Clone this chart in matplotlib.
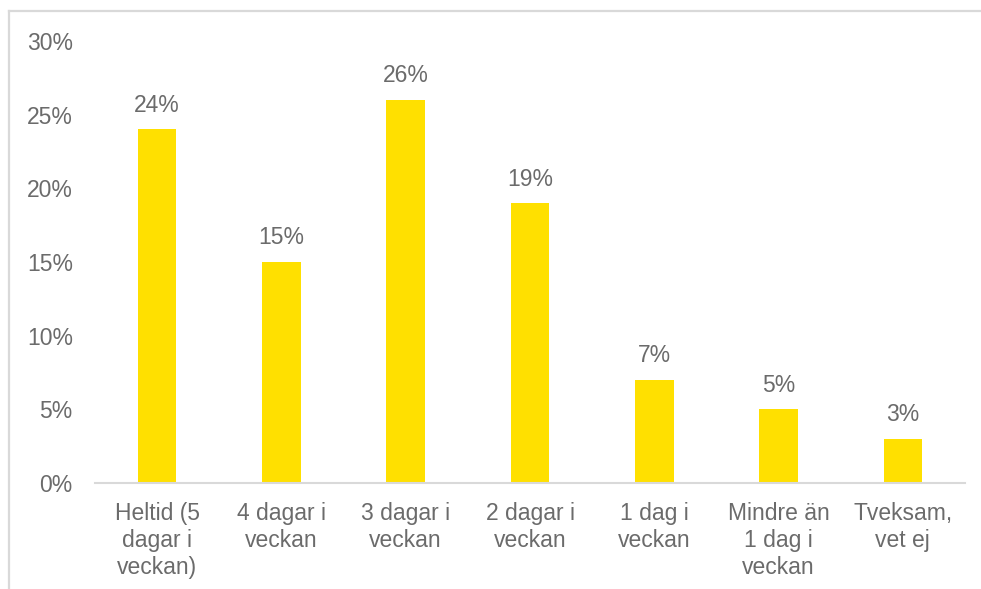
import matplotlib.pyplot as plt
from matplotlib.lines import Line2D
from matplotlib.ticker import FuncFormatter

# Chart data
categories = ['Heltid (5\ndagar i\nveckan)', '4 dagar i\nveckan', '3 dagar i\nveckan',
              '2 dagar i\nveckan', '1 dag i\nveckan', 'Mindre än\n1 dag i\nveckan', 'Tveksam,\nvet ej']
values = [0.24, 0.15, 0.26, 0.19, 0.07, 0.05, 0.03]
y_ticks = [0, 0.05, 0.10, 0.15, 0.20, 0.25, 0.30]

text_color = '#6B6B6B'
bar_color = '#FFE000'
line_color = '#D9D9D9'

plt.rcParams['font.family'] = ['Liberation Sans', 'DejaVu Sans']

W, H = 981, 589
fig = plt.figure(figsize=(W / 100, H / 100), dpi=100)
ax = fig.add_axes([95 / W, (H - 483) / H, (965 - 95) / W, (483 - 41) / H])

x = range(len(categories))
bars = ax.bar(x, values, width=0.31, color=bar_color, zorder=2)

# Data labels
for xi, v in zip(x, values):
    ax.annotate(f'{v * 100:.0f}%', (xi, v), xytext=(0, 9), textcoords='offset points',
                ha='center', va='bottom', fontsize=16.5, color=text_color)

ax.set_xlim(-0.5, len(categories) - 0.5)
ax.set_ylim(0, 0.30)
ax.set_yticks(y_ticks)
ax.yaxis.set_major_formatter(FuncFormatter(lambda v, p: f'{v * 100:.0f}%'))
ax.set_xticks(list(x))
ax.set_xticklabels(categories, linespacing=1.22)

ax.tick_params(axis='both', length=0, labelsize=16.5, labelcolor=text_color)
ax.tick_params(axis='y', pad=16)
ax.tick_params(axis='x', pad=14)

for side in ['top', 'right', 'left']:
    ax.spines[side].set_visible(False)
ax.spines['bottom'].set_color(line_color)
ax.spines['bottom'].set_linewidth(1.5)

# Chart border (cropped at bottom/right)
fig.add_artist(Line2D([9 / W, 9 / W], [0, (H - 11) / H], color=line_color, lw=1.6,
                      transform=fig.transFigure))
fig.add_artist(Line2D([9 / W, 980 / W], [(H - 11) / H, (H - 11) / H], color=line_color, lw=1.6,
                      transform=fig.transFigure))

fig.savefig('out.png', dpi=100)
